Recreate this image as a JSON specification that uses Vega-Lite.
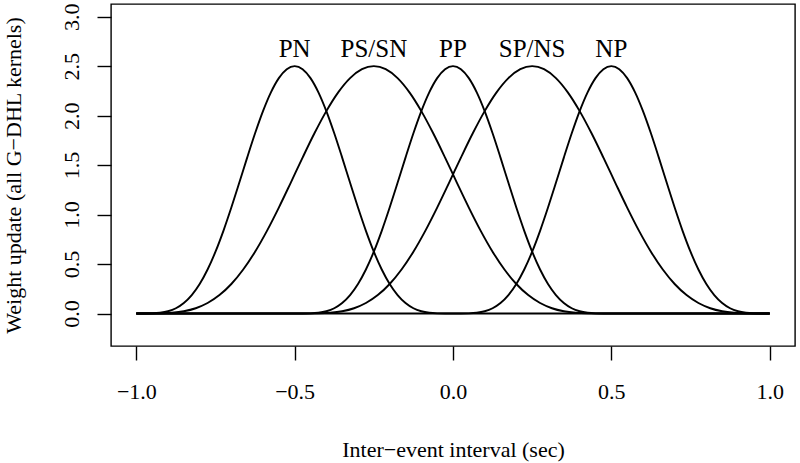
{
  "$schema": "https://vega.github.io/schema/vega-lite/v6.json",
  "width": 684,
  "height": 342,
  "autosize": {"type": "none"},
  "padding": {"left": 111, "top": 4, "right": 5, "bottom": 117},
  "background": "white",
  "config": {
    "view": {"stroke": "black", "strokeWidth": 1.4},
    "axis": {
      "grid": false,
      "domain": false,
      "tickColor": "black",
      "tickWidth": 1.4,
      "tickSize": 14,
      "labelFont": "Liberation Serif",
      "labelFontSize": 22,
      "labelColor": "black",
      "titleFont": "Liberation Serif",
      "titleFontSize": 22,
      "titleFontWeight": "normal",
      "titleColor": "black"
    }
  },
  "layer": [
    {
      "data": {
        "values": [
          {"c": "PN", "x": -1, "y": 0}, {"c": "PN", "x": -0.975, "y": 0.0001}, {"c": "PN", "x": -0.95, "y": 0.0015}, {"c": "PN", "x": -0.925, "y": 0.0074}, {"c": "PN", "x": -0.9, "y": 0.0228}, {"c": "PN", "x": -0.875, "y": 0.0536}, {"c": "PN", "x": -0.85, "y": 0.1062}, {"c": "PN", "x": -0.825, "y": 0.1863}, {"c": "PN", "x": -0.8, "y": 0.2984}, {"c": "PN", "x": -0.775, "y": 0.4448}, {"c": "PN", "x": -0.75, "y": 0.625}, {"c": "PN", "x": -0.725, "y": 0.8358}, {"c": "PN", "x": -0.7, "y": 1.071}, {"c": "PN", "x": -0.675, "y": 1.3213}, {"c": "PN", "x": -0.65, "y": 1.5757}, {"c": "PN", "x": -0.625, "y": 1.8214}, {"c": "PN", "x": -0.6, "y": 2.0453}, {"c": "PN", "x": -0.575, "y": 2.2349}, {"c": "PN", "x": -0.55, "y": 2.3791}, {"c": "PN", "x": -0.525, "y": 2.4693}, {"c": "PN", "x": -0.5, "y": 2.5}, {"c": "PN", "x": -0.475, "y": 2.4693}, {"c": "PN", "x": -0.45, "y": 2.3791}, {"c": "PN", "x": -0.425, "y": 2.2349}, {"c": "PN", "x": -0.4, "y": 2.0453}, {"c": "PN", "x": -0.375, "y": 1.8214}, {"c": "PN", "x": -0.35, "y": 1.5757}, {"c": "PN", "x": -0.325, "y": 1.3213}, {"c": "PN", "x": -0.3, "y": 1.071}, {"c": "PN", "x": -0.275, "y": 0.8358}, {"c": "PN", "x": -0.25, "y": 0.625}, {"c": "PN", "x": -0.225, "y": 0.4448}, {"c": "PN", "x": -0.2, "y": 0.2984}, {"c": "PN", "x": -0.175, "y": 0.1863}, {"c": "PN", "x": -0.15, "y": 0.1062}, {"c": "PN", "x": -0.125, "y": 0.0536}, {"c": "PN", "x": -0.1, "y": 0.0228}, {"c": "PN", "x": -0.075, "y": 0.0074}, {"c": "PN", "x": -0.05, "y": 0.0015}, {"c": "PN", "x": -0.025, "y": 0.0001}, {"c": "PN", "x": 0, "y": 0}, {"c": "PN", "x": 1, "y": 0},

          {"c": "PS/SN", "x": -1, "y": 0}, {"c": "PS/SN", "x": -0.9625, "y": 0.0001}, {"c": "PS/SN", "x": -0.925, "y": 0.0015}, {"c": "PS/SN", "x": -0.8875, "y": 0.0074}, {"c": "PS/SN", "x": -0.85, "y": 0.0228}, {"c": "PS/SN", "x": -0.8125, "y": 0.0536}, {"c": "PS/SN", "x": -0.775, "y": 0.1062}, {"c": "PS/SN", "x": -0.7375, "y": 0.1863}, {"c": "PS/SN", "x": -0.7, "y": 0.2984}, {"c": "PS/SN", "x": -0.6625, "y": 0.4448}, {"c": "PS/SN", "x": -0.625, "y": 0.625}, {"c": "PS/SN", "x": -0.5875, "y": 0.8358}, {"c": "PS/SN", "x": -0.55, "y": 1.071}, {"c": "PS/SN", "x": -0.5125, "y": 1.3213}, {"c": "PS/SN", "x": -0.475, "y": 1.5757}, {"c": "PS/SN", "x": -0.4375, "y": 1.8214}, {"c": "PS/SN", "x": -0.4, "y": 2.0453}, {"c": "PS/SN", "x": -0.3625, "y": 2.2349}, {"c": "PS/SN", "x": -0.325, "y": 2.3791}, {"c": "PS/SN", "x": -0.2875, "y": 2.4693}, {"c": "PS/SN", "x": -0.25, "y": 2.5}, {"c": "PS/SN", "x": -0.2125, "y": 2.4693}, {"c": "PS/SN", "x": -0.175, "y": 2.3791}, {"c": "PS/SN", "x": -0.1375, "y": 2.2349}, {"c": "PS/SN", "x": -0.1, "y": 2.0453}, {"c": "PS/SN", "x": -0.0625, "y": 1.8214}, {"c": "PS/SN", "x": -0.025, "y": 1.5757}, {"c": "PS/SN", "x": 0.0125, "y": 1.3213}, {"c": "PS/SN", "x": 0.05, "y": 1.071}, {"c": "PS/SN", "x": 0.0875, "y": 0.8358}, {"c": "PS/SN", "x": 0.125, "y": 0.625}, {"c": "PS/SN", "x": 0.1625, "y": 0.4448}, {"c": "PS/SN", "x": 0.2, "y": 0.2984}, {"c": "PS/SN", "x": 0.2375, "y": 0.1863}, {"c": "PS/SN", "x": 0.275, "y": 0.1062}, {"c": "PS/SN", "x": 0.3125, "y": 0.0536}, {"c": "PS/SN", "x": 0.35, "y": 0.0228}, {"c": "PS/SN", "x": 0.3875, "y": 0.0074}, {"c": "PS/SN", "x": 0.425, "y": 0.0015}, {"c": "PS/SN", "x": 0.4625, "y": 0.0001}, {"c": "PS/SN", "x": 0.5, "y": 0}, {"c": "PS/SN", "x": 1, "y": 0},

          {"c": "PP", "x": -1, "y": 0}, {"c": "PP", "x": -0.5, "y": 0}, {"c": "PP", "x": -0.475, "y": 0.0001}, {"c": "PP", "x": -0.45, "y": 0.0015}, {"c": "PP", "x": -0.425, "y": 0.0074}, {"c": "PP", "x": -0.4, "y": 0.0228}, {"c": "PP", "x": -0.375, "y": 0.0536}, {"c": "PP", "x": -0.35, "y": 0.1062}, {"c": "PP", "x": -0.325, "y": 0.1863}, {"c": "PP", "x": -0.3, "y": 0.2984}, {"c": "PP", "x": -0.275, "y": 0.4448}, {"c": "PP", "x": -0.25, "y": 0.625}, {"c": "PP", "x": -0.225, "y": 0.8358}, {"c": "PP", "x": -0.2, "y": 1.071}, {"c": "PP", "x": -0.175, "y": 1.3213}, {"c": "PP", "x": -0.15, "y": 1.5757}, {"c": "PP", "x": -0.125, "y": 1.8214}, {"c": "PP", "x": -0.1, "y": 2.0453}, {"c": "PP", "x": -0.075, "y": 2.2349}, {"c": "PP", "x": -0.05, "y": 2.3791}, {"c": "PP", "x": -0.025, "y": 2.4693}, {"c": "PP", "x": 0, "y": 2.5}, {"c": "PP", "x": 0.025, "y": 2.4693}, {"c": "PP", "x": 0.05, "y": 2.3791}, {"c": "PP", "x": 0.075, "y": 2.2349}, {"c": "PP", "x": 0.1, "y": 2.0453}, {"c": "PP", "x": 0.125, "y": 1.8214}, {"c": "PP", "x": 0.15, "y": 1.5757}, {"c": "PP", "x": 0.175, "y": 1.3213}, {"c": "PP", "x": 0.2, "y": 1.071}, {"c": "PP", "x": 0.225, "y": 0.8358}, {"c": "PP", "x": 0.25, "y": 0.625}, {"c": "PP", "x": 0.275, "y": 0.4448}, {"c": "PP", "x": 0.3, "y": 0.2984}, {"c": "PP", "x": 0.325, "y": 0.1863}, {"c": "PP", "x": 0.35, "y": 0.1062}, {"c": "PP", "x": 0.375, "y": 0.0536}, {"c": "PP", "x": 0.4, "y": 0.0228}, {"c": "PP", "x": 0.425, "y": 0.0074}, {"c": "PP", "x": 0.45, "y": 0.0015}, {"c": "PP", "x": 0.475, "y": 0.0001}, {"c": "PP", "x": 0.5, "y": 0}, {"c": "PP", "x": 1, "y": 0},

          {"c": "SP/NS", "x": -1, "y": 0}, {"c": "SP/NS", "x": -0.5, "y": 0}, {"c": "SP/NS", "x": -0.4625, "y": 0.0001}, {"c": "SP/NS", "x": -0.425, "y": 0.0015}, {"c": "SP/NS", "x": -0.3875, "y": 0.0074}, {"c": "SP/NS", "x": -0.35, "y": 0.0228}, {"c": "SP/NS", "x": -0.3125, "y": 0.0536}, {"c": "SP/NS", "x": -0.275, "y": 0.1062}, {"c": "SP/NS", "x": -0.2375, "y": 0.1863}, {"c": "SP/NS", "x": -0.2, "y": 0.2984}, {"c": "SP/NS", "x": -0.1625, "y": 0.4448}, {"c": "SP/NS", "x": -0.125, "y": 0.625}, {"c": "SP/NS", "x": -0.0875, "y": 0.8358}, {"c": "SP/NS", "x": -0.05, "y": 1.071}, {"c": "SP/NS", "x": -0.0125, "y": 1.3213}, {"c": "SP/NS", "x": 0.025, "y": 1.5757}, {"c": "SP/NS", "x": 0.0625, "y": 1.8214}, {"c": "SP/NS", "x": 0.1, "y": 2.0453}, {"c": "SP/NS", "x": 0.1375, "y": 2.2349}, {"c": "SP/NS", "x": 0.175, "y": 2.3791}, {"c": "SP/NS", "x": 0.2125, "y": 2.4693}, {"c": "SP/NS", "x": 0.25, "y": 2.5}, {"c": "SP/NS", "x": 0.2875, "y": 2.4693}, {"c": "SP/NS", "x": 0.325, "y": 2.3791}, {"c": "SP/NS", "x": 0.3625, "y": 2.2349}, {"c": "SP/NS", "x": 0.4, "y": 2.0453}, {"c": "SP/NS", "x": 0.4375, "y": 1.8214}, {"c": "SP/NS", "x": 0.475, "y": 1.5757}, {"c": "SP/NS", "x": 0.5125, "y": 1.3213}, {"c": "SP/NS", "x": 0.55, "y": 1.071}, {"c": "SP/NS", "x": 0.5875, "y": 0.8358}, {"c": "SP/NS", "x": 0.625, "y": 0.625}, {"c": "SP/NS", "x": 0.6625, "y": 0.4448}, {"c": "SP/NS", "x": 0.7, "y": 0.2984}, {"c": "SP/NS", "x": 0.7375, "y": 0.1863}, {"c": "SP/NS", "x": 0.775, "y": 0.1062}, {"c": "SP/NS", "x": 0.8125, "y": 0.0536}, {"c": "SP/NS", "x": 0.85, "y": 0.0228}, {"c": "SP/NS", "x": 0.8875, "y": 0.0074}, {"c": "SP/NS", "x": 0.925, "y": 0.0015}, {"c": "SP/NS", "x": 0.9625, "y": 0.0001}, {"c": "SP/NS", "x": 1, "y": 0},

          {"c": "NP", "x": -1, "y": 0}, {"c": "NP", "x": 0, "y": 0}, {"c": "NP", "x": 0.025, "y": 0.0001}, {"c": "NP", "x": 0.05, "y": 0.0015}, {"c": "NP", "x": 0.075, "y": 0.0074}, {"c": "NP", "x": 0.1, "y": 0.0228}, {"c": "NP", "x": 0.125, "y": 0.0536}, {"c": "NP", "x": 0.15, "y": 0.1062}, {"c": "NP", "x": 0.175, "y": 0.1863}, {"c": "NP", "x": 0.2, "y": 0.2984}, {"c": "NP", "x": 0.225, "y": 0.4448}, {"c": "NP", "x": 0.25, "y": 0.625}, {"c": "NP", "x": 0.275, "y": 0.8358}, {"c": "NP", "x": 0.3, "y": 1.071}, {"c": "NP", "x": 0.325, "y": 1.3213}, {"c": "NP", "x": 0.35, "y": 1.5757}, {"c": "NP", "x": 0.375, "y": 1.8214}, {"c": "NP", "x": 0.4, "y": 2.0453}, {"c": "NP", "x": 0.425, "y": 2.2349}, {"c": "NP", "x": 0.45, "y": 2.3791}, {"c": "NP", "x": 0.475, "y": 2.4693}, {"c": "NP", "x": 0.5, "y": 2.5}, {"c": "NP", "x": 0.525, "y": 2.4693}, {"c": "NP", "x": 0.55, "y": 2.3791}, {"c": "NP", "x": 0.575, "y": 2.2349}, {"c": "NP", "x": 0.6, "y": 2.0453}, {"c": "NP", "x": 0.625, "y": 1.8214}, {"c": "NP", "x": 0.65, "y": 1.5757}, {"c": "NP", "x": 0.675, "y": 1.3213}, {"c": "NP", "x": 0.7, "y": 1.071}, {"c": "NP", "x": 0.725, "y": 0.8358}, {"c": "NP", "x": 0.75, "y": 0.625}, {"c": "NP", "x": 0.775, "y": 0.4448}, {"c": "NP", "x": 0.8, "y": 0.2984}, {"c": "NP", "x": 0.825, "y": 0.1863}, {"c": "NP", "x": 0.85, "y": 0.1062}, {"c": "NP", "x": 0.875, "y": 0.0536}, {"c": "NP", "x": 0.9, "y": 0.0228}, {"c": "NP", "x": 0.925, "y": 0.0074}, {"c": "NP", "x": 0.95, "y": 0.0015}, {"c": "NP", "x": 0.975, "y": 0.0001}, {"c": "NP", "x": 1, "y": 0}
        ]
      },
      "mark": {"type": "line", "color": "black", "strokeWidth": 1.9, "interpolate": "monotone"},
      "encoding": {
        "x": {
          "field": "x",
          "type": "quantitative",
          "scale": {"domain": [-1.08, 1.08], "nice": false, "zero": false},
          "axis": {
            "values": [-1, -0.5, 0, 0.5, 1],
            "format": ".1f",
            "title": "Inter−event interval (sec)",
            "labelAlign": "center",
            "labelBaseline": "alphabetic",
            "labelPadding": 38,
            "labelFlush": false,
            "labelOverlap": false,
            "titleX": 342,
            "titleY": 110,
            "titleAlign": "center",
            "titleBaseline": "alphabetic"
          }
        },
        "y": {
          "field": "y",
          "type": "quantitative",
          "scale": {"domain": [-0.328, 3.128], "nice": false, "zero": false},
          "axis": {
            "values": [0, 0.5, 1, 1.5, 2, 2.5, 3],
            "format": ".1f",
            "title": "Weight update (all G−DHL kernels)",
            "labelAngle": -90,
            "labelAlign": "center",
            "labelBaseline": "alphabetic",
            "labelPadding": 19,
            "labelFlush": false,
            "labelOverlap": false,
            "titleAngle": -90,
            "titleX": -91,
            "titleY": 171,
            "titleAlign": "center",
            "titleBaseline": "alphabetic"
          }
        },
        "detail": {"field": "c"}
      }
    },
    {
      "data": {
        "values": [
          {"label": "PN", "x": -0.5, "y": 2.595},
          {"label": "PS/SN", "x": -0.25, "y": 2.595},
          {"label": "PP", "x": 0, "y": 2.595},
          {"label": "SP/NS", "x": 0.25, "y": 2.595},
          {"label": "NP", "x": 0.5, "y": 2.595}
        ]
      },
      "mark": {"type": "text", "font": "Liberation Serif", "fontSize": 25, "align": "center", "baseline": "alphabetic", "color": "black"},
      "encoding": {
        "x": {"field": "x", "type": "quantitative"},
        "y": {"field": "y", "type": "quantitative"},
        "text": {"field": "label"}
      }
    }
  ]
}
